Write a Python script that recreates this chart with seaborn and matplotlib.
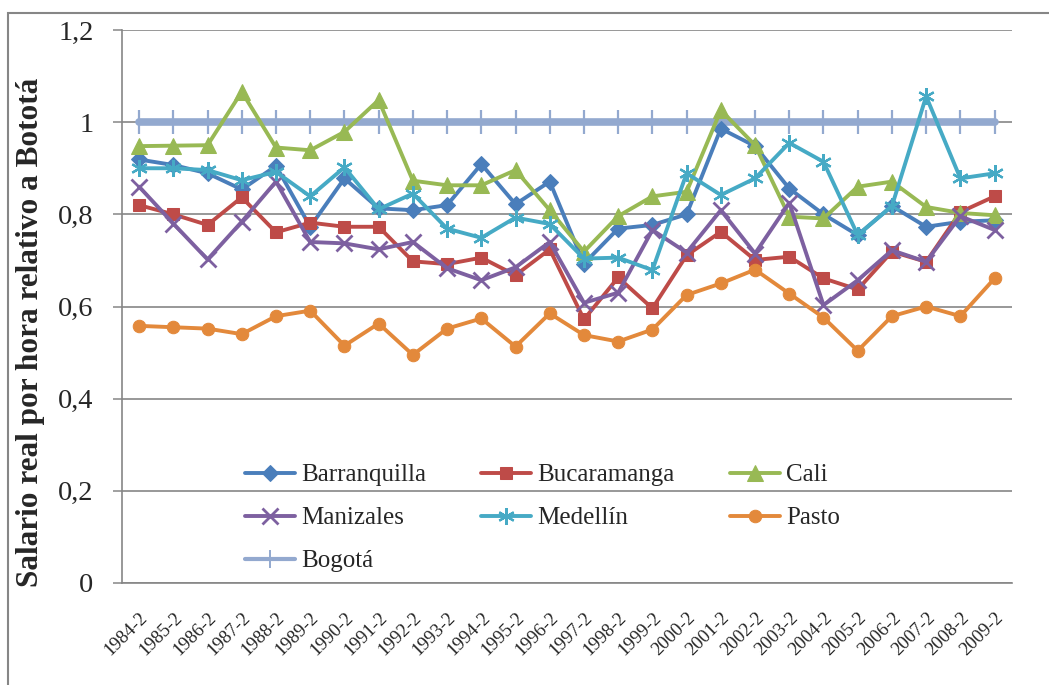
import matplotlib

matplotlib.use("Agg")

import matplotlib.pyplot as plt
import numpy as np
import pandas as pd
import seaborn as sns
from matplotlib.lines import Line2D
from matplotlib.patches import Rectangle

periods = [f"{y}-2" for y in range(1984, 2010)]

barranquilla = [0.919, 0.907, 0.889, 0.854, 0.905, 0.773, 0.878, 0.813, 0.809, 0.820,
                0.909, 0.822, 0.871, 0.693, 0.769, 0.777, 0.800, 0.986, 0.948, 0.856,
                0.800, 0.755, 0.818, 0.773, 0.784, 0.787]
bucaramanga = [0.820, 0.800, 0.777, 0.837, 0.761, 0.782, 0.773, 0.773, 0.698, 0.692,
               0.706, 0.668, 0.724, 0.572, 0.663, 0.596, 0.711, 0.762, 0.701, 0.708,
               0.661, 0.637, 0.719, 0.697, 0.805, 0.839]
cali = [0.948, 0.949, 0.950, 1.066, 0.945, 0.939, 0.979, 1.048, 0.873, 0.863,
        0.863, 0.896, 0.809, 0.719, 0.796, 0.839, 0.849, 1.026, 0.950, 0.795,
        0.791, 0.860, 0.871, 0.816, 0.803, 0.798]
manizales = [0.860, 0.780, 0.702, 0.784, 0.871, 0.740, 0.737, 0.724, 0.740, 0.683,
             0.657, 0.685, 0.740, 0.608, 0.630, 0.766, 0.717, 0.809, 0.715, 0.825,
             0.603, 0.657, 0.722, 0.697, 0.796, 0.766]
medellin = [0.900, 0.900, 0.896, 0.874, 0.892, 0.839, 0.902, 0.811, 0.845, 0.769,
            0.749, 0.793, 0.779, 0.704, 0.706, 0.679, 0.889, 0.842, 0.878, 0.955,
            0.914, 0.755, 0.818, 1.056, 0.878, 0.889]
pasto = [0.558, 0.555, 0.552, 0.540, 0.579, 0.591, 0.515, 0.563, 0.495, 0.552,
         0.574, 0.513, 0.585, 0.538, 0.524, 0.550, 0.625, 0.650, 0.680, 0.628,
         0.576, 0.504, 0.579, 0.600, 0.579, 0.661]
bogota = [1.0] * len(periods)

y_ticks = [0, 0.2, 0.4, 0.6, 0.8, 1.0, 1.2]
y_tick_labels = ["0", "0,2", "0,4", "0,6", "0,8", "1", "1,2"]

GRAY = "#868686"
BOGOTA_COLOR = "#93A9CF"


def main():
    sns.set_theme(style="white")
    plt.rcParams["font.family"] = ["Liberation Serif", "DejaVu Serif"]

    fig = plt.figure(figsize=(10.49, 6.85), dpi=100)
    ax = fig.add_axes([122 / 1049, 102 / 685, 889.7 / 1049, 553 / 685])

    xs = np.arange(len(periods))
    series = [
        ("Barranquilla", barranquilla, "#4A7EBB", dict(marker="D", markersize=8)),
        ("Bucaramanga", bucaramanga, "#BE4B48", dict(marker="s", markersize=9)),
        ("Cali", cali, "#98B954", dict(marker="^", markersize=11)),
        ("Manizales", manizales, "#7D60A0", dict(marker="x", markersize=11, markeredgewidth=2)),
        ("Medellín", medellin, "#46AAC5", dict(marker=(6, 2, 0), markersize=12, markeredgewidth=1.6)),
        ("Pasto", pasto, "#E3893B", dict(marker="o", markersize=9)),
    ]
    handles = {}
    for name, vals, color, mk in series:
        df = pd.DataFrame({"x": xs, "y": vals})
        sns.lineplot(data=df, x="x", y="y", color=color, linewidth=2.8, ax=ax,
                     markeredgecolor=color, solid_joinstyle="round", **mk)
        handles[name] = ax.lines[-1]

    df = pd.DataFrame({"x": xs, "y": bogota})
    sns.lineplot(data=df, x="x", y="y", color=BOGOTA_COLOR, linewidth=5.5, ax=ax,
                 marker="|", markersize=17, markeredgewidth=1.6,
                 markeredgecolor=BOGOTA_COLOR, solid_capstyle="round", zorder=1.5)
    # thinner proxy for the legend, as in the original
    handles["Bogotá"] = Line2D([], [], color=BOGOTA_COLOR, linewidth=3, marker="|",
                               markersize=13, markeredgewidth=1.4)

    ax.set_xlim(-0.5, len(periods) - 0.5)
    ax.set_ylim(0, 1.2)
    ax.set_yticks(y_ticks, labels=y_tick_labels)
    ax.set_xticks(xs, labels=periods)
    ax.set_xticks(np.arange(-0.5, len(periods)), minor=True)
    ax.tick_params(axis="x", which="major", length=0, labelsize=13.5, pad=19)
    ax.tick_params(axis="x", which="minor", length=4.5, width=1.1, color=GRAY, direction="out")
    ax.tick_params(axis="y", length=6.5, width=1.1, color=GRAY, labelsize=20.5, pad=14,
                   direction="out", left=True)
    for lbl in ax.get_xticklabels():
        lbl.set_rotation(45)
        lbl.set_ha("right")
        lbl.set_rotation_mode("anchor")

    ax.yaxis.grid(True, color=GRAY, linewidth=1.2)
    ax.set_axisbelow(True)
    for side in ["top", "right"]:
        ax.spines[side].set_visible(False)
    for side in ["left", "bottom"]:
        ax.spines[side].set_color(GRAY)
        ax.spines[side].set_linewidth(1.2)

    ax.set_xlabel("")
    ax.set_ylabel("Salario real por hora relativo a Bototá", fontsize=22.5, fontweight="bold")
    ax.yaxis.set_label_coords(-0.087, 0.454)

    order = ["Barranquilla", "Manizales", "Bogotá", "Bucaramanga", "Medellín", "Cali", "Pasto"]
    ax.legend([handles[n] for n in order], order, ncol=3, frameon=False,
              loc="upper left", bbox_to_anchor=(0.113, 0.256), fontsize=18,
              handlelength=2.0, handletextpad=0.25, columnspacing=2.2, labelspacing=0.82)

    fig.patches.append(Rectangle((8 / 1049, -0.1), 1.2, 1.1 - 13 / 685, transform=fig.transFigure,
                                 fill=False, edgecolor=GRAY, linewidth=1.5))

    fig.savefig("out.png", dpi=100)
    plt.close(fig)


if __name__ == "__main__":
    main()
